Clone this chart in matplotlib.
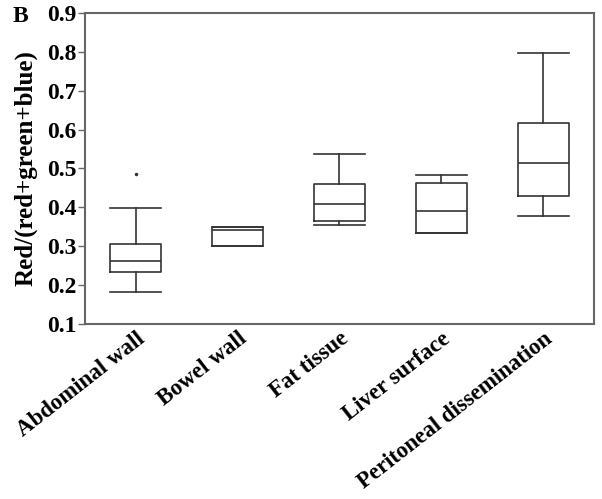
import matplotlib
matplotlib.use("Agg")
import matplotlib.pyplot as plt

plt.rcParams['font.family'] = 'Liberation Serif'
plt.rcParams['font.weight'] = 'bold'

# box plot values
groups = ["Abdominal wall", "Bowel wall", "Fat tissue", "Liver surface",
          "Peritoneal dissemination"]
whislo = [0.183, 0.300, 0.355, 0.333, 0.378]
q1 = [0.235, 0.300, 0.365, 0.333, 0.430]
med = [0.261, 0.343, 0.409, 0.391, 0.513]
q3 = [0.307, 0.349, 0.459, 0.463, 0.616]
whishi = [0.398, 0.349, 0.538, 0.482, 0.796]
fliers = [[0.485], [], [], [], []]

stats = []
for i in range(len(groups)):
    stats.append(dict(label=groups[i], whislo=whislo[i], q1=q1[i], med=med[i],
                      q3=q3[i], whishi=whishi[i], fliers=fliers[i]))

fig = plt.figure(figsize=(6.02, 4.99), dpi=100)
ax = fig.add_axes([0.1412, 0.3507, 0.8455, 0.6233])

lc = '#333333'
lw = 1.2
ax.bxp(stats, positions=range(1, 6), widths=0.5, capwidths=0.5,
       boxprops=dict(color=lc, linewidth=lw),
       medianprops=dict(color=lc, linewidth=lw),
       whiskerprops=dict(color=lc, linewidth=lw),
       capprops=dict(color=lc, linewidth=lw),
       flierprops=dict(marker='o', markersize=1.5, markerfacecolor=lc,
                       markeredgecolor=lc))

ax.set_xlim(0.5, 5.5)
ax.set_ylim(0.1, 0.9)
ax.set_yticks([0.1, 0.2, 0.3, 0.4, 0.5, 0.6, 0.7, 0.8, 0.9])
ax.set_yticklabels(['0.1', '0.2', '0.3', '0.4', '0.5', '0.6', '0.7', '0.8', '0.9'])
ax.tick_params(axis='y', length=5, width=1, color='#666666', labelsize=17, pad=1)
ax.tick_params(axis='x', length=0, labelsize=16.5, pad=3)
ax.set_xticks(range(1, 6))
ax.set_xticklabels(groups, rotation=38, ha='right', va='top',
                   rotation_mode='anchor')

for s in ax.spines.values():
    s.set_color('#666666')
    s.set_linewidth(1.5)

ax.set_ylabel('Red/(red+green+blue)', fontsize=18, fontweight='bold', labelpad=7)

fig.text(13 / 602, 1 - 22 / 499, 'B', fontsize=17, fontweight='bold')

fig.savefig('out.png', dpi=100)
